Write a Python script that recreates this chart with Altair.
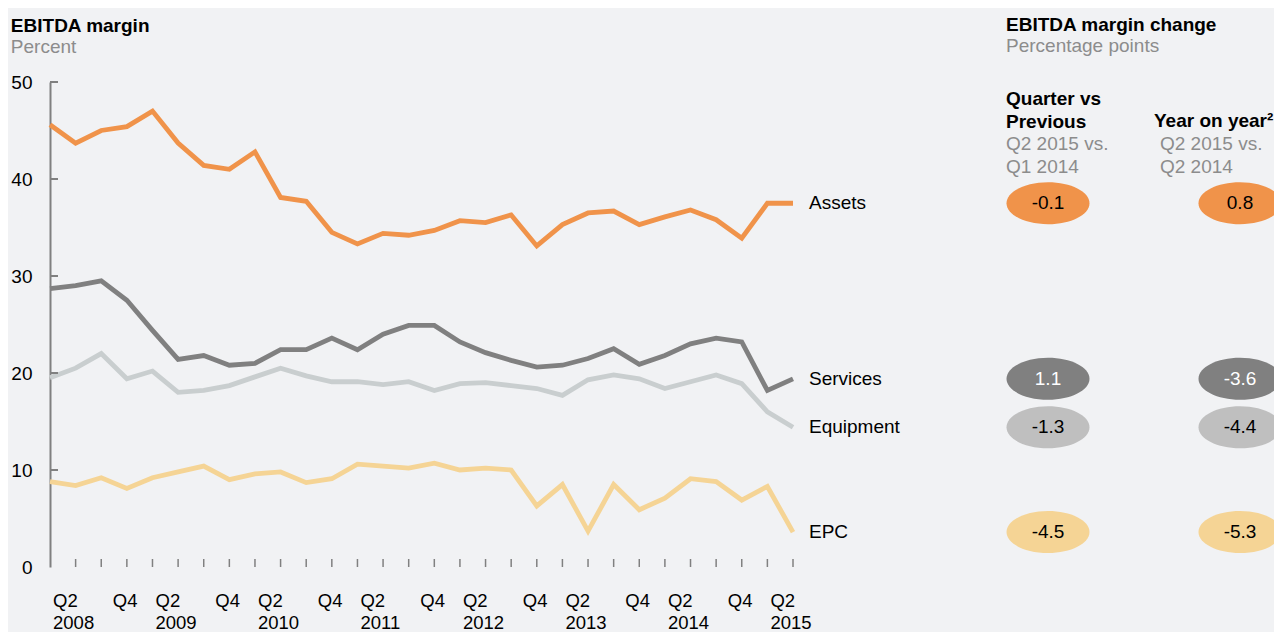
import altair as alt
import pandas as pd

FONT = "Liberation Sans"

quarters = [
    "Q1 2008", "Q2 2008", "Q3 2008", "Q4 2008",
    "Q1 2009", "Q2 2009", "Q3 2009", "Q4 2009",
    "Q1 2010", "Q2 2010", "Q3 2010", "Q4 2010",
    "Q1 2011", "Q2 2011", "Q3 2011", "Q4 2011",
    "Q1 2012", "Q2 2012", "Q3 2012", "Q4 2012",
    "Q1 2013", "Q2 2013", "Q3 2013", "Q4 2013",
    "Q1 2014", "Q2 2014", "Q3 2014", "Q4 2014",
    "Q1 2015", "Q2 2015",
]

assets = [45.6, 43.7, 45.0, 45.4, 47.0, 43.7, 41.4, 41.0, 42.8, 38.1,
          37.7, 34.5, 33.3, 34.4, 34.2, 34.7, 35.7, 35.5, 36.3, 33.1,
          35.3, 36.5, 36.7, 35.3, 36.1, 36.8, 35.8, 33.9, 37.5, 37.5]
services = [28.7, 29.0, 29.5, 27.5, 24.4, 21.4, 21.8, 20.8, 21.0, 22.4,
            22.4, 23.6, 22.4, 24.0, 24.9, 24.9, 23.2, 22.1, 21.3, 20.6,
            20.8, 21.5, 22.5, 20.9, 21.8, 23.0, 23.6, 23.2, 18.2, 19.4]
equipment = [19.5, 20.5, 22.0, 19.4, 20.2, 18.0, 18.2, 18.7, 19.6, 20.5,
             19.7, 19.1, 19.1, 18.8, 19.1, 18.2, 18.9, 19.0, 18.7, 18.4,
             17.7, 19.3, 19.8, 19.4, 18.4, 19.1, 19.8, 18.9, 16.0, 14.4]
epc = [8.8, 8.4, 9.2, 8.1, 9.2, 9.8, 10.4, 9.0, 9.6, 9.8,
       8.7, 9.1, 10.6, 10.4, 10.2, 10.7, 10.0, 10.2, 10.0, 6.3,
       8.5, 3.7, 8.5, 5.9, 7.1, 9.1, 8.8, 6.9, 8.3, 3.6]

series_names = ["Assets", "Services", "Equipment", "EPC"]
series_values = [assets, services, equipment, epc]
line_colors = ["#F0934A", "#808080", "#C9CECF", "#F5D495"]

y_ticks = [10, 20, 30, 40, 50]
tick_quarters = quarters[1:]

q2_label_quarters = ["Q2 2008", "Q2 2009", "Q2 2010", "Q2 2011", "Q2 2012",
                     "Q2 2013", "Q2 2014", "Q2 2015"]
q2_label_years = ["2008", "2009", "2010", "2011", "2012", "2013", "2014", "2015"]
q4_label_quarters = ["Q4 2008", "Q4 2009", "Q4 2010", "Q4 2011", "Q4 2012",
                     "Q4 2013", "Q4 2014"]

# right panel
change_cols = ["Quarter vs Previous", "Year on year"]
qvp_change = [-0.1, 1.1, -1.3, -4.5]
yoy_change = [0.8, -3.6, -4.4, -5.3]
ellipse_colors = ["#F0934A", "#808080", "#BFBFBF", "#F5D495"]
ellipse_text_colors = ["#000000", "#FFFFFF", "#000000", "#000000"]

W, H = 743, 485
RW = 276

# ---------------- data tables ----------------
lines_df = pd.DataFrame([
    {"quarter": q, "series": s, "value": v}
    for s, vals in zip(series_names, series_values)
    for q, v in zip(quarters, vals)
])
last_df = pd.DataFrame({
    "quarter": [quarters[-1]] * 4,
    "series": series_names,
    "value": [vals[-1] for vals in series_values],
})
ytick_df = pd.DataFrame({"value": y_ticks})
xtick_df = pd.DataFrame({"quarter": tick_quarters})
q2_df = pd.DataFrame({"quarter": q2_label_quarters,
                      "q": [q.split(" ")[0] for q in q2_label_quarters],
                      "year": q2_label_years})
q4_df = pd.DataFrame({"quarter": q4_label_quarters,
                      "q": [q.split(" ")[0] for q in q4_label_quarters]})

xscale = alt.Scale(type="point", domain=quarters, padding=0)
yscale = alt.Scale(domain=[0, 50], nice=False, zero=True)


def X():
    return alt.X("quarter:N", scale=xscale, sort=quarters, axis=None)


y_axis = alt.Axis(values=[0, 10, 20, 30, 40, 50], ticks=False, tickSize=0,
                  labelPadding=18, labelFontSize=19, labelColor="#000000",
                  labelFont=FONT, domainColor="#808080", domainWidth=2,
                  grid=False, title=None)
x_axis = alt.Axis(labels=False, ticks=False, domainColor="#808080",
                  domainWidth=2, grid=False, title=None)

lines = alt.Chart(lines_df).mark_line(strokeWidth=4.8).encode(
    x=alt.X("quarter:N", scale=xscale, sort=quarters, axis=x_axis),
    y=alt.Y("value:Q", scale=yscale, axis=y_axis),
    color=alt.Color("series:N", scale=alt.Scale(domain=series_names, range=line_colors),
                    legend=None),
    detail="series:N",
)

series_labels = alt.Chart(last_df).mark_text(
    align="left", baseline="middle", dx=16, fontSize=19, font=FONT, color="#000000"
).encode(
    x=X(),
    y=alt.Y("value:Q", scale=yscale),
    text="series:N",
)

yticks = alt.Chart(ytick_df).mark_rule(color="#808080", strokeWidth=2).encode(
    y=alt.Y("value:Q", scale=yscale),
    x=alt.value(0),
    x2=alt.value(8),
)

xticks = alt.Chart(xtick_df).mark_rule(color="#808080", strokeWidth=1.5).encode(
    x=X(),
    y=alt.value(H),
    y2=alt.value(H - 8),
)

q2_top = alt.Chart(q2_df).mark_text(
    align="left", baseline="middle", dx=-22.6, fontSize=18.5, font=FONT, color="#000000"
).encode(x=X(), y=alt.value(H + 34), text="q:N")
q2_bot = alt.Chart(q2_df).mark_text(
    align="left", baseline="middle", dx=-22.6, fontSize=18.5, font=FONT, color="#000000"
).encode(x=X(), y=alt.value(H + 55.5), text="year:N")
q4_top = alt.Chart(q4_df).mark_text(
    align="left", baseline="middle", dx=-14, fontSize=18.5, font=FONT, color="#000000"
).encode(x=X(), y=alt.value(H + 34), text="q:N")

left = alt.layer(
    lines, series_labels, yticks, xticks, q2_top, q2_bot, q4_top
).properties(
    width=W, height=H,
    title=alt.TitleParams(
        text="EBITDA margin", subtitle="Percent", anchor="start", frame="bounds",
        font=FONT, fontSize=19, fontWeight="bold", color="#000000",
        subtitleFont=FONT, subtitleFontSize=19, subtitleColor="#8C8C8C",
        subtitlePadding=2, offset=16,
    ),
)

# ---------------- right panel ----------------
ell_df = pd.DataFrame(
    [{"series": s, "col": change_cols[0], "change": v, "pos": vals[-1],
      "label": f"{v:.1f}"}
     for s, v, vals in zip(series_names, qvp_change, series_values)]
    + [{"series": s, "col": change_cols[1], "change": v, "pos": vals[-1],
        "label": f"{v:.1f}"}
       for s, v, vals in zip(series_names, yoy_change, series_values)]
)

rx = alt.Scale(type="point", domain=change_cols, padding=0.21875)
ryscale = alt.Scale(domain=[0, 50], nice=False, zero=True)

k = 0.5523
ry = 0.506
ellipse_path = (
    f"M -1 0 C -1 {-ry*k:.4f} {-k:.4f} {-ry} 0 {-ry} "
    f"C {k:.4f} {-ry} 1 {-ry*k:.4f} 1 0 "
    f"C 1 {ry*k:.4f} {k:.4f} {ry} 0 {ry} "
    f"C {-k:.4f} {ry} -1 {ry*k:.4f} -1 0 Z"
)

ellipses = alt.Chart(ell_df).mark_point(
    shape=ellipse_path, filled=True, size=83 * 83, opacity=1, strokeWidth=0
).encode(
    x=alt.X("col:N", scale=rx, axis=None, sort=change_cols),
    y=alt.Y("pos:Q", scale=ryscale, axis=None),
    color=alt.Color("series:N", scale=alt.Scale(domain=series_names, range=ellipse_colors),
                    legend=None),
)
ell_text = alt.Chart(ell_df).mark_text(
    align="center", baseline="middle", fontSize=19, font=FONT
).encode(
    x=alt.X("col:N", scale=rx, axis=None, sort=change_cols),
    y=alt.Y("pos:Q", scale=ryscale, axis=None),
    text="label:N",
    color=alt.Color("series:N",
                    scale=alt.Scale(domain=series_names, range=ellipse_text_colors),
                    legend=None),
)


def header(col, text, bold, ypix, dx):
    df = pd.DataFrame({"col": [col], "t": [text]})
    return alt.Chart(df).mark_text(
        align="left", baseline="middle", dx=dx, fontSize=19, font=FONT,
        fontWeight="bold" if bold else "normal",
        color="#000000" if bold else "#8C8C8C", lineBreak="\n", lineHeight=22.5,
    ).encode(
        x=alt.X("col:N", scale=rx, axis=None, sort=change_cols),
        y=alt.value(ypix),
        text="t:N",
    )


h1 = header(change_cols[0], "Quarter vs\nPrevious", True, 17, -42)
h2 = header(change_cols[0], "Q2 2015 vs.\nQ1 2014", False, 62, -42)
h3 = header(change_cols[1], "Year on year²", True, 39, -86)
h4 = header(change_cols[1], "Q2 2015 vs.\nQ2 2014", False, 62, -80)

right = alt.layer(ellipses, ell_text, h1, h2, h3, h4).resolve_scale(
    color="independent"
).properties(
    width=RW, height=H,
    title=alt.TitleParams(
        text="EBITDA margin change", subtitle="Percentage points", anchor="start",
        frame="group",
        font=FONT, fontSize=19, fontWeight="bold", color="#000000",
        subtitleFont=FONT, subtitleFontSize=19, subtitleColor="#8C8C8C",
        subtitlePadding=2, offset=26,
    ),
)

chart = alt.hconcat(left, right, spacing=213, bounds="flush").properties(
    padding={"left": 2, "top": 8, "right": -8, "bottom": 0},
    background="#F1F2F4",
).configure_view(stroke=None).configure_text(font=FONT)

chart.save("out.html", embed_options={"renderer": "svg", "actions": False})
